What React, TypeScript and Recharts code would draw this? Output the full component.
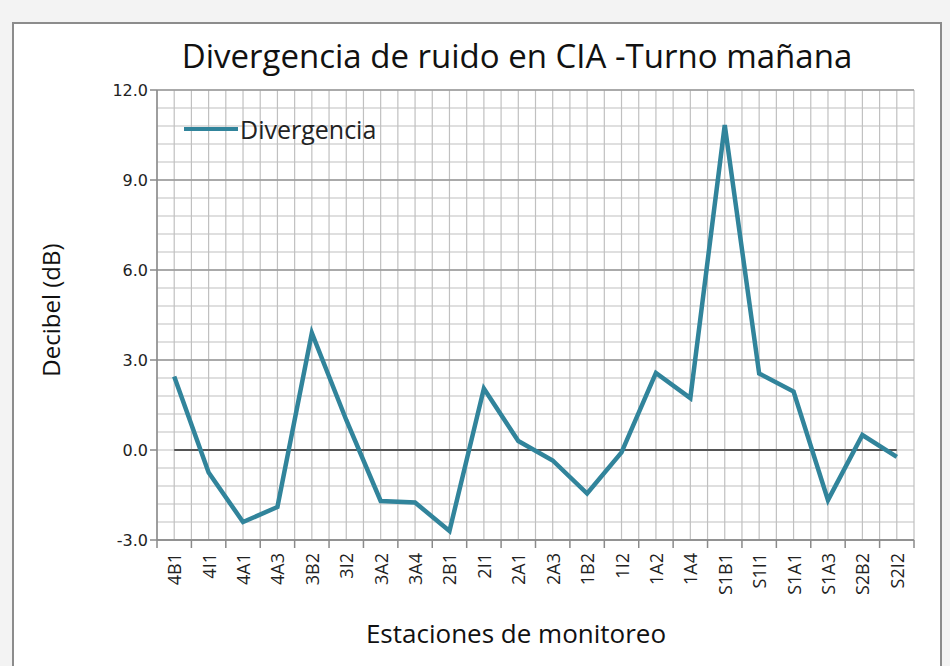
import React from 'react';
import {
  LineChart,
  Line,
  XAxis,
  YAxis,
  CartesianGrid,
  ReferenceLine,
} from 'recharts';

const estaciones = [
  '4B1', '4I1', '4A1', '4A3', '3B2', '3I2', '3A2', '3A4', '2B1', '2I1', '2A1',
  '2A3', '1B2', '1I2', '1A2', '1A4', 'S1B1', 'S1I1', 'S1A1', 'S1A3', 'S2B2', 'S2I2',
];

const divergencia = [
  2.45, -0.75, -2.4, -1.9, 3.9, 1.0, -1.7, -1.75, -2.7, 2.05, 0.3,
  -0.35, -1.45, -0.08, 2.57, 1.73, 10.83, 2.55, 1.95, -1.67, 0.5, -0.23,
];

const yTicks = [-3, 0, 3, 6, 9, 12];
const majorLines = [-3, 3, 6, 9, 12];

const chartData = estaciones.map((name, i) => ({
  name,
  Divergencia: divergencia[i],
  cero: 0,
}));

const W = 950;
const H = 666;
const margin = { top: 90, right: 36, bottom: 66, left: 97 };
const yAxisWidth = 60;
const xAxisHeight = 60;
const plotWidth = W - margin.left - yAxisWidth - margin.right;
const step = plotWidth / estaciones.length;

const XTick = (props: any) => {
  const { x, y, payload, index } = props;
  const left = x - step / 2;
  return (
    <g>
      <line x1={left} y1={y - 8} x2={left} y2={y} stroke="#8a8a8a" strokeWidth={1.5} />
      {index === estaciones.length - 1 && (
        <line x1={x + step / 2} y1={y - 8} x2={x + step / 2} y2={y} stroke="#8a8a8a" strokeWidth={1.5} />
      )}
      <text
        transform={`translate(${x + 7},${y + 5}) rotate(-90)`}
        textAnchor="end"
        fontSize={18}
        fontFamily="'Open Sans', sans-serif"
        fill="#222"
      >
        {payload.value}
      </text>
    </g>
  );
};

export default function App() {
  return (
    <div
      style={{
        position: 'absolute',
        left: 0,
        top: 0,
        width: W,
        height: H,
        background: '#f3f3f3',
        overflow: 'hidden',
      }}
    >
      <div
        style={{
          position: 'absolute',
          left: 12,
          top: 22,
          width: 926,
          height: 660,
          background: '#fff',
          border: '2px solid #8c8c8c',
        }}
      />
      <div style={{ position: 'absolute', left: 0, top: 0 }}>
        <LineChart width={W} height={H} data={chartData} margin={margin}>
          <CartesianGrid
            stroke="#c0c0c0"
            strokeWidth={1.2}
            horizontalCoordinatesGenerator={({ offset }: any) =>
              Array.from({ length: 26 }, (_, i) => offset.top + (i * offset.height) / 25)
            }
            verticalCoordinatesGenerator={({ offset }: any) =>
              Array.from({ length: 45 }, (_, i) => offset.left + (i * offset.width) / 44)
            }
          />
          {majorLines.map((v) => (
            <ReferenceLine key={v} y={v} stroke="#999" strokeWidth={1.5} />
          ))}
          <XAxis
            dataKey="name"
            height={xAxisHeight}
            interval={0}
            padding={{ left: step / 2, right: step / 2 }}
            tickLine={false}
            axisLine={{ stroke: '#8a8a8a', strokeWidth: 1.5 }}
            tick={<XTick />}
          />
          <YAxis
            width={yAxisWidth}
            domain={[-3, 12]}
            ticks={yTicks}
            interval={0}
            tickFormatter={(v: number) => v.toFixed(1)}
            tick={{ fontSize: 16, fill: '#222', fontFamily: "'DejaVu Sans', sans-serif" }}
            tickLine={{ stroke: '#8a8a8a', strokeWidth: 1.5 }}
            tickSize={7}
            axisLine={{ stroke: '#8a8a8a', strokeWidth: 1.5 }}
          />
          <Line
            dataKey="cero"
            stroke="#555"
            strokeWidth={2}
            dot={false}
            legendType="none"
            isAnimationActive={false}
          />
          <Line
            dataKey="Divergencia"
            stroke="#31849b"
            strokeWidth={4.5}
            dot={false}
            strokeLinejoin="miter"
            isAnimationActive={false}
          />
        </LineChart>
      </div>
      {/* legend */}
      <div
        style={{
          position: 'absolute',
          left: 184,
          top: 112,
          display: 'flex',
          alignItems: 'center',
          fontFamily: "'Open Sans', sans-serif",
          fontSize: 25,
          color: '#222',
        }}
      >
        <span
          style={{ display: 'inline-block', width: 54, height: 4, background: '#31849b', marginRight: 2 }}
        />
        Divergencia
      </div>
      <div
        style={{
          position: 'absolute',
          left: 0,
          width: 1034,
          top: 33,
          textAlign: 'center',
          fontFamily: "'Open Sans', sans-serif",
          fontSize: 33,
          color: '#111',
          whiteSpace: 'nowrap',
        }}
      >
        Divergencia de ruido en CIA -Turno mañana
      </div>
      <div
        style={{
          position: 'absolute',
          left: 0,
          width: 1032,
          top: 615,
          textAlign: 'center',
          fontFamily: "'Open Sans', sans-serif",
          fontSize: 26,
          color: '#111',
        }}
      >
        Estaciones de monitoreo
      </div>
      <div
        style={{
          position: 'absolute',
          left: 50,
          top: 310,
          transform: 'translate(-50%, -50%) rotate(-90deg)',
          fontFamily: "'Open Sans', sans-serif",
          fontSize: 24,
          color: '#111',
          whiteSpace: 'nowrap',
        }}
      >
        Decibel (dB)
      </div>
    </div>
  );
}
